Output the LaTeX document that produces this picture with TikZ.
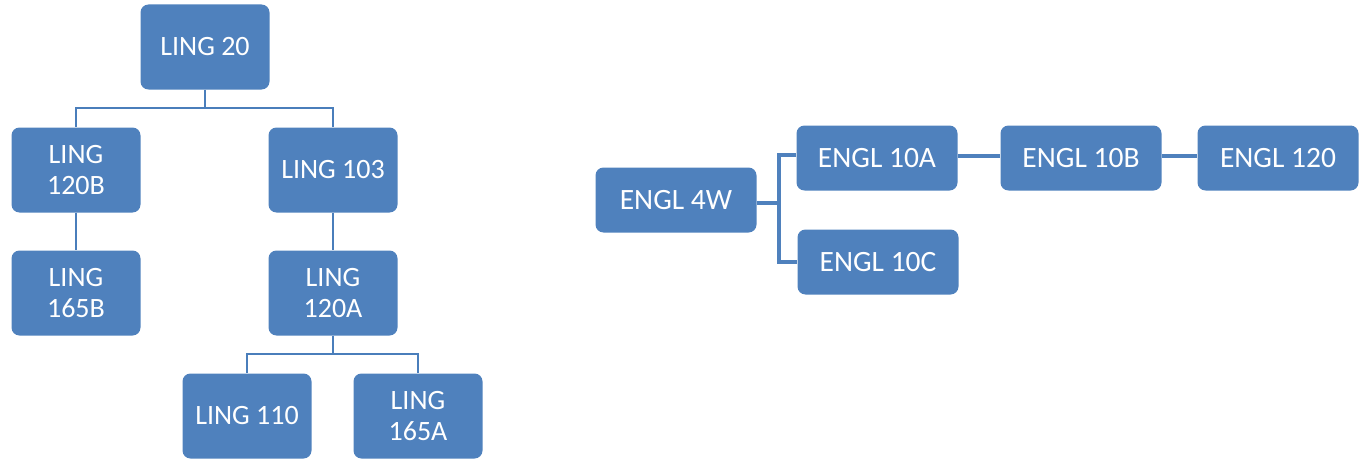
\documentclass[tikz,border=0pt]{standalone}
\usepackage{fontspec}
\setmainfont{Carlito}
\definecolor{boxblue}{HTML}{4F81BD}
\definecolor{lineblue}{HTML}{4A7EBB}
\begin{document}
\begin{tikzpicture}[x=1pt,y=-1pt,
  box/.style={fill=boxblue, rounded corners=8pt, inner sep=0pt, text=white, align=center},
  lbox/.style={box, minimum width=129pt, minimum height=85pt, font=\fontsize{28}{31}\selectfont},
  rbox/.style={box, minimum width=161pt, minimum height=65pt, font=\fontsize{29.5}{32}\selectfont},
  tline/.style={draw=lineblue, line width=2pt},
  kline/.style={draw=boxblue, line width=4pt}]
\useasboundingbox (0,0) rectangle (1363,460);
% left tree
\node[lbox] (l20)   at (205,47)  {LING 20};
\node[lbox] (l120b) at (76,170)  {LING\\120B};
\node[lbox] (l103)  at (333,170) {LING 103};
\node[lbox] (l165b) at (76,293)  {LING\\165B};
\node[lbox] (l120a) at (333,293) {LING\\120A};
\node[lbox] (l110)  at (247,416) {LING 110};
\node[lbox] (l165a) at (418,416) {LING\\165A};
\path (l20.south) ++(0,18) coordinate (b1);
\path (l120a.south) ++(0,18) coordinate (b2);
\draw[tline] (l20.south) -- (b1);
\draw[tline] (b1) -| (l120b.north);
\draw[tline] (b1) -| (l103.north);
\draw[tline] (l120b) -- (l165b);
\draw[tline] (l103) -- (l120a);
\draw[tline] (l120a.south) -- (b2);
\draw[tline] (b2) -| (l110.north);
\draw[tline] (b2) -| (l165a.north);
% right tree
\node[rbox] (e4w)  at (676,200)  {ENGL 4W};
\node[rbox] (e10a) at (877,158)  {ENGL 10A};
\node[rbox] (e10c) at (878,262)  {ENGL 10C};
\node[rbox] (e10b) at (1081,158) {ENGL 10B};
\node[rbox] (e120) at (1278,158) {ENGL 120};
\coordinate (j) at (779,203);
\draw[kline] (e4w.east |- j) -- (j);
\draw[kline] (e10a.west) ++(0,-3) -| (j) |- (e10c.west);
\draw[kline] (e10a.east) ++(0,-2) -- (e10b.west |- 0,156);
\draw[kline] (e10b.east) ++(0,-2) -- (e120.west |- 0,156);
\end{tikzpicture}
\end{document}
